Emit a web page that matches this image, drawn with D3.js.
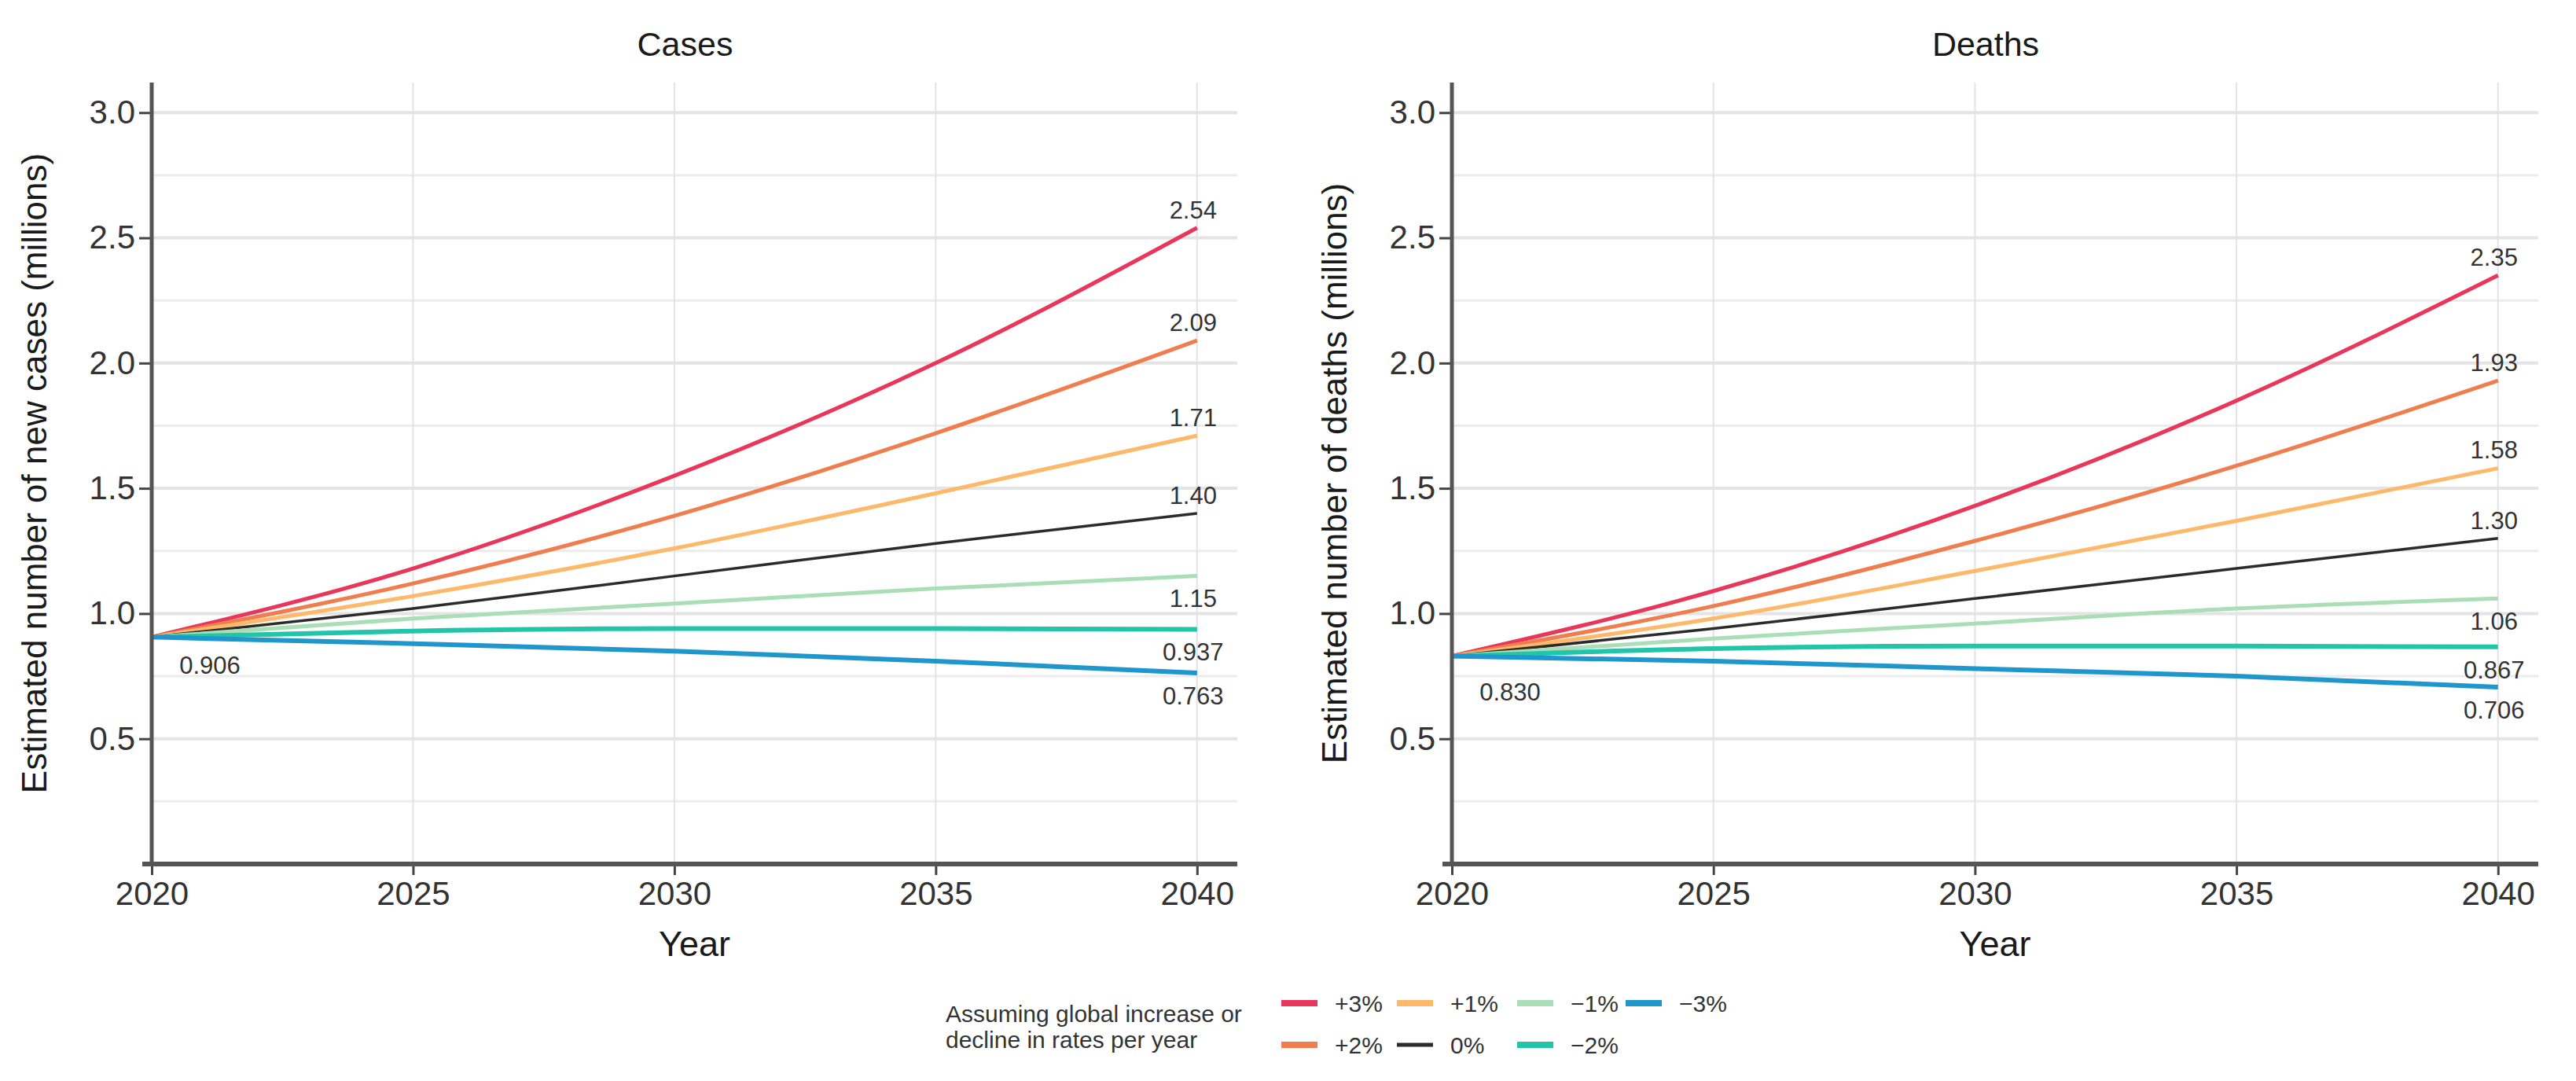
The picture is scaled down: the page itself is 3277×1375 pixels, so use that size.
<!DOCTYPE html>
<html lang="en">
<head>
    <meta charset="UTF-8">
    <title>Cases and deaths projections</title>
    <script src="https://d3js.org/d3.v7.min.js"></script>
    <style>
        body { margin: 0; background: white; }
        text { font-family: "Liberation Sans", Arial, sans-serif; }
    </style>
</head>
<body>
    <svg id="chart"></svg>
    <script>
        const width = 3277;
        const height = 1375;

        // data (millions)
        const years = [2020, 2025, 2030, 2035, 2040];
        const scenarios = ["+3%", "+2%", "+1%", "0%", "\u22121%", "\u22122%", "\u22123%"];
        const palette = ["#E8375B", "#F07D4D", "#FDB86A", "#2b2b2b", "#A9DEB6", "#22C5AA", "#1F97CC"];
        const lineWidths = [5, 5, 5, 3.5, 5, 6, 6];

        const casesValues = [
            [0.906, 1.18, 1.55, 2.00, 2.54],
            [0.906, 1.12, 1.39, 1.72, 2.09],
            [0.906, 1.07, 1.26, 1.48, 1.71],
            [0.906, 1.02, 1.15, 1.28, 1.40],
            [0.906, 0.98, 1.04, 1.10, 1.15],
            [0.906, 0.93, 0.94, 0.94, 0.937],
            [0.906, 0.88, 0.85, 0.81, 0.763]
        ];
        const deathsValues = [
            [0.830, 1.09, 1.43, 1.85, 2.35],
            [0.830, 1.03, 1.29, 1.59, 1.93],
            [0.830, 0.98, 1.17, 1.37, 1.58],
            [0.830, 0.94, 1.06, 1.18, 1.30],
            [0.830, 0.90, 0.96, 1.02, 1.06],
            [0.830, 0.86, 0.87, 0.87, 0.867],
            [0.830, 0.81, 0.78, 0.75, 0.706]
        ];

        const xTicks = [2020, 2025, 2030, 2035, 2040];
        const yMajor = [0.5, 1.0, 1.5, 2.0, 2.5, 3.0];
        const yMinor = [0.25, 0.75, 1.25, 1.75, 2.25, 2.75];

        const svg = d3.select("#chart")
            .attr("width", width)
            .attr("height", height);

        const fmt = d3.format(".3r");

        const panels = [
            { title: "Cases", ytitle: "Estimated number of new cases (millions)", values: casesValues,
              left: 193, right: 1574, ytitleX: 44, startDy: 36 },
            { title: "Deaths", ytitle: "Estimated number of deaths (millions)", values: deathsValues,
              left: 1847, right: 3229, ytitleX: 1698, startDy: 46 }
        ];

        const y = d3.scaleLinear().domain([0, 3.12]).range([1099, 105]);

        panels.forEach(p => {
            const x = d3.scaleLinear().domain([2020, 2040.77]).range([p.left, p.right]);
            const g = svg.append("g");

            // grid
            g.selectAll(".minor").data(yMinor).enter().append("line")
                .attr("x1", p.left).attr("x2", p.right)
                .attr("y1", d => y(d)).attr("y2", d => y(d))
                .attr("stroke", "#ececec").attr("stroke-width", 3);
            g.selectAll(".major").data(yMajor).enter().append("line")
                .attr("x1", p.left).attr("x2", p.right)
                .attr("y1", d => y(d)).attr("y2", d => y(d))
                .attr("stroke", "#e4e4e4").attr("stroke-width", 4);
            g.selectAll(".vgrid").data(xTicks.slice(1)).enter().append("line")
                .attr("x1", d => x(d)).attr("x2", d => x(d))
                .attr("y1", y(0)).attr("y2", 105)
                .attr("stroke", "#e2e2e8").attr("stroke-width", 2);

            // series
            const line = d3.line()
                .x((d, i) => x(years[i]))
                .y(d => y(d))
                .curve(d3.curveMonotoneX);

            p.values.forEach((vals, k) => {
                g.append("path")
                    .attr("d", line(vals))
                    .attr("fill", "none")
                    .attr("stroke", palette[k])
                    .attr("stroke-width", lineWidths[k])
                    .attr("stroke-linecap", "butt");
            });

            // end labels
            p.values.forEach((vals, k) => {
                const last = vals[vals.length - 1];
                const above = k <= 3;
                g.append("text")
                    .attr("x", x(2040) - 5)
                    .attr("y", y(last) + (above ? -23 : 29))
                    .attr("dy", "0.35em")
                    .attr("text-anchor", "middle")
                    .attr("font-size", 31)
                    .attr("fill", "#333")
                    .text(fmt(last));
            });

            // start label
            g.append("text")
                .attr("x", x(2020) + 74)
                .attr("y", y(p.values[0][0]) + p.startDy)
                .attr("dy", "0.35em")
                .attr("text-anchor", "middle")
                .attr("font-size", 31)
                .attr("fill", "#333")
                .text(fmt(p.values[0][0]));

            // axes
            const yAxis = g.append("g")
                .attr("transform", `translate(${p.left},0)`)
                .call(d3.axisLeft(y).tickValues(yMajor).tickFormat(d3.format(".1f")).tickSize(16).tickPadding(5));
            yAxis.select(".domain").remove();
            yAxis.selectAll(".tick line").attr("stroke", "#444").attr("stroke-width", 3);
            yAxis.selectAll(".tick text").attr("font-size", 42).attr("fill", "#333")
                .attr("font-family", "Liberation Sans, Arial, sans-serif");

            const xAxis = g.append("g")
                .attr("transform", `translate(0,${y(0)})`)
                .call(d3.axisBottom(x).tickValues(xTicks).tickFormat(d3.format("d")).tickSize(14).tickPadding(8));
            xAxis.select(".domain").remove();
            xAxis.selectAll(".tick line").attr("stroke", "#444").attr("stroke-width", 3);
            xAxis.selectAll(".tick text").attr("font-size", 42).attr("fill", "#333")
                .attr("font-family", "Liberation Sans, Arial, sans-serif");

            g.append("line")
                .attr("x1", p.left).attr("x2", p.left)
                .attr("y1", 105).attr("y2", y(0) + 2)
                .attr("stroke", "#555").attr("stroke-width", 5);
            g.append("line")
                .attr("x1", p.left - 12).attr("x2", p.right)
                .attr("y1", y(0)).attr("y2", y(0))
                .attr("stroke", "#555").attr("stroke-width", 6);

            // titles
            g.append("text")
                .attr("x", (p.left + p.right) / 2 - 12)
                .attr("y", 56)
                .attr("dy", "0.35em")
                .attr("text-anchor", "middle")
                .attr("font-size", 43)
                .attr("fill", "#1a1a1a")
                .text(p.title);
            g.append("text")
                .attr("x", (p.left + p.right) / 2)
                .attr("y", 1200)
                .attr("dy", "0.35em")
                .attr("text-anchor", "middle")
                .attr("font-size", 45)
                .attr("fill", "#1a1a1a")
                .text("Year");
            g.append("text")
                .attr("transform", `translate(${p.ytitleX},${(105 + y(0)) / 2}) rotate(-90)`)
                .attr("dy", "0.35em")
                .attr("text-anchor", "middle")
                .attr("font-size", 44)
                .attr("fill", "#1a1a1a")
                .text(p.ytitle);
        });

        // legend
        const legend = svg.append("g");
        legend.append("text")
            .attr("x", 1203).attr("y", 1289).attr("dy", "0.35em")
            .attr("font-size", 30).attr("fill", "#333")
            .text("Assuming global increase or");
        legend.append("text")
            .attr("x", 1203).attr("y", 1322).attr("dy", "0.35em")
            .attr("font-size", 30).attr("fill", "#333")
            .text("decline in rates per year");

        const rowY = [1276, 1329];
        const colX = [1630, 1777, 1930, 2068];
        scenarios.forEach((s, k) => {
            const col = Math.floor(k / 2), row = k % 2;
            const kx = colX[col], ky = rowY[row];
            legend.append("line")
                .attr("x1", kx).attr("x2", kx + 46)
                .attr("y1", ky).attr("y2", ky)
                .attr("stroke", palette[k])
                .attr("stroke-width", k === 3 ? 5 : 8);
            legend.append("text")
                .attr("x", kx + 68).attr("y", ky).attr("dy", "0.35em")
                .attr("font-size", 30).attr("fill", "#333")
                .text(s);
        });
    </script>
</body>
</html>
